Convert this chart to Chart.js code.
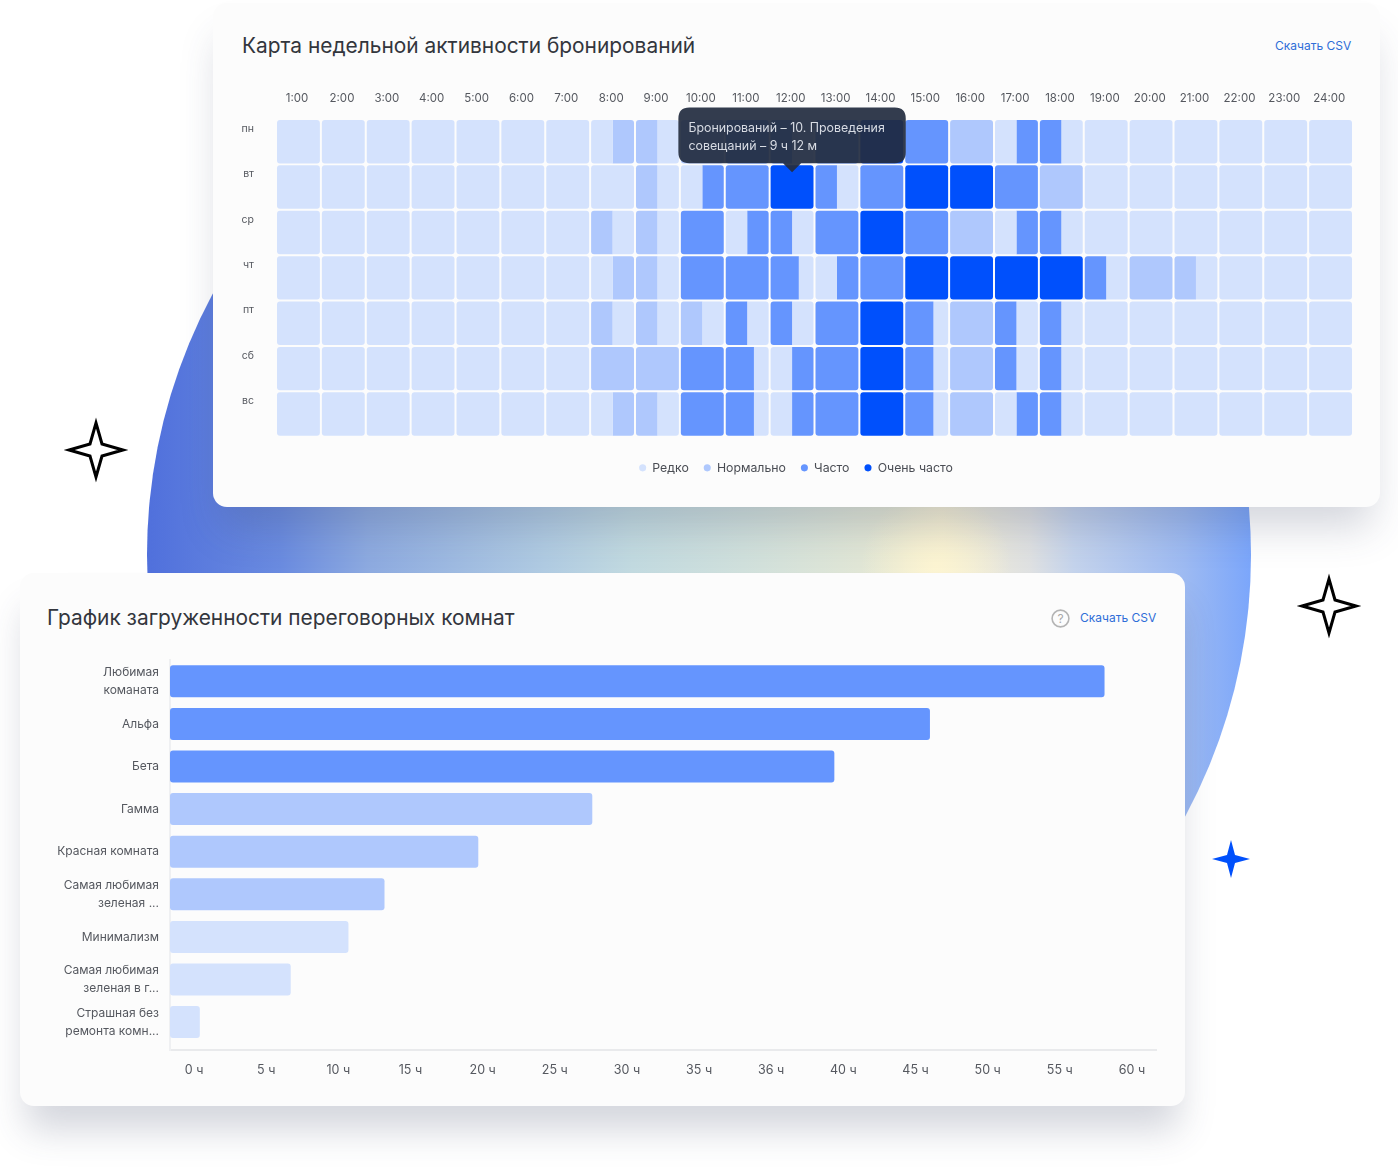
<!DOCTYPE html>
<html lang="ru">
<head>
<meta charset="utf-8">
<title>Аналитика бронирований</title>
<script src="https://cdn.jsdelivr.net/npm/chart.js@4/dist/chart.umd.min.js"></script>
<style>
  html, body { margin: 0; background: #fff; }
  body { position: relative; width: 1398px; height: 1171px; overflow: hidden; font-family: Inter, sans-serif; }
  .abs { position: absolute; }
  #circle {
    left: 147px; top: 3px; width: 1104px; height: 1104px; border-radius: 50%;
    clip-path: inset(0 0 40px 0);
    background:
      radial-gradient(circle 75px at 789px 562px, rgba(253,245,210,.95), rgba(253,245,210,0)),
      linear-gradient(90deg, #5070dc 0%, #6a8be0 12%, #8daae0 20%, #b0cbe2 36%, #c2dae0 44%, #d0e0dc 54%, #e6e8d4 68%, #f3eed4 72%, #dfe1e2 80%, #c4d3ec 84%, #9dbaf2 94%, #7ba6fb 100%);
  }
  .card { background: #fcfcfc; border-radius: 14px; }
  #card1 { left: 213px; top: 3px; width: 1167px; height: 504px; box-shadow: 0 28px 40px -8px rgba(60,70,100,.22); }
  #card2 { left: 20px; top: 573px; width: 1165px; height: 533px; box-shadow: 0 30px 36px -6px rgba(60,70,100,.22); }
  .title { font-size: 20.9px; color: #33363d; line-height: 28px; white-space: nowrap; }
  .csv { font-size: 12px; color: #2f6ed8; line-height: 16px; white-space: nowrap; }
  canvas { position: absolute; display: block; }
</style>
</head>
<body>
<div class="abs" id="circle"></div>
<div class="abs card" id="card1"></div>
<div class="abs card" id="card2"></div>

<svg class="abs" style="left:0;top:0" width="1398" height="1171">
  <g fill="#fff" stroke="#000" stroke-width="3" stroke-linejoin="miter">
    <path d="M96 423 L102 444 L123 450 L102 456 L96 477 L90 456 L69 450 L90 444 Z"/>
    <path d="M1329 579 L1335 600 L1356 606 L1335 612 L1329 633 L1323 612 L1302 606 L1323 600 Z"/>
  </g>
  <path fill="#0050fc" d="M1231 840 L1235 855 L1250 859 L1235 863 L1231 878 L1227 863 L1212 859 L1227 855 Z"/>
</svg>

<div class="abs title" style="left:242px;top:32px">Карта недельной активности бронирований</div>
<div class="abs csv" style="left:1275px;top:38px">Скачать CSV</div>
<div class="abs title" style="left:47px;top:604px">График загруженности переговорных комнат</div>
<div class="abs csv" style="left:1080px;top:610px">Скачать CSV</div>
<svg class="abs" style="left:1050px;top:608px" width="21" height="21">
  <circle cx="10.5" cy="10.5" r="8.4" fill="none" stroke="#b4b4b4" stroke-width="1.6"/>
  <text x="10.5" y="15" text-anchor="middle" font-family="Inter" font-size="12" fill="#a8a8a8">?</text>
</svg>

<canvas id="heat" class="abs" width="1114" height="399" style="left:239px;top:85px"></canvas>
<canvas id="rooms" class="abs" width="1119" height="435" style="left:46px;top:650px"></canvas>

<script>
const levelColors = ["#d4e2fd", "#afc8fd", "#6595fe", "#0050fc"];
const levelNames = ["Редко", "Нормально", "Часто", "Очень часто"];

const hourLabels = ["1:00","2:00","3:00","4:00","5:00","6:00","7:00","8:00","9:00","10:00","11:00","12:00",
  "13:00","14:00","15:00","16:00","17:00","18:00","19:00","20:00","21:00","22:00","23:00","24:00"];
const dayLabels = ["пн","вт","ср","чт","пт","сб","вс"];

// a cell is a level, or [left level, share of the left part, right level]
const mon = [0,0,0,0,0,0,0,[0,.5,1],[1,.5,0],1,2,[2,.5,0],2,3,2,1,[0,.5,2],[2,.5,0],0,0,0,0,0,0];
const tue = [0,0,0,0,0,0,0,0,[1,.5,0],[0,.5,2],2,3,[2,.5,0],2,3,3,2,1,0,0,0,0,0,0];
const wed = [0,0,0,0,0,0,0,[1,.5,0],[1,.5,0],2,[0,.5,2],[2,.5,0],2,3,2,1,[0,.5,2],[2,.5,0],0,0,0,0,0,0];
const thu = [0,0,0,0,0,0,0,[0,.5,1],[1,.5,0],2,2,[2,.65,0],[0,.5,2],2,3,3,3,3,[2,.5,0],1,[1,.5,0],0,0,0];
const fri = [0,0,0,0,0,0,0,[1,.5,0],[1,.5,0],[1,.5,0],[2,.5,0],[2,.5,0],2,3,[2,.65,0],1,[2,.5,0],[2,.5,0],0,0,0,0,0,0];
const sat = [0,0,0,0,0,0,0,1,1,2,[2,.65,0],[0,.5,2],2,3,[2,.65,0],1,[2,.5,0],[2,.5,0],0,0,0,0,0,0];
const sun = [0,0,0,0,0,0,0,[0,.5,1],[1,.5,0],2,[2,.65,0],[0,.5,2],2,3,[2,.65,0],1,[0,.5,2],[2,.5,0],0,0,0,0,0,0];
const week = [mon, tue, wed, thu, fri, sat, sun];

const tooltipLines = ["Бронирований – 10. Проведения", "совещаний – 9 ч 12 м"];

const roomLabels = [["Любимая","команата"],"Альфа","Бета","Гамма","Красная комната",
  ["Самая любимая","зеленая ..."],"Минимализм",["Самая любимая","зеленая в г..."],["Страшная без","ремонта комн..."]];
const roomHours = [58.1, 46, 39.5, 27.6, 19.7, 13.2, 10.7, 6.7, 0.4];
const roomLevels = [2, 2, 2, 1, 1, 1, 0, 0, 0];
const tickHours = [0, 5, 10, 15, 20, 25, 30, 35, 36, 40, 45, 50, 55, 60];

Chart.defaults.font.family = "Inter, sans-serif";
Chart.defaults.animation = false;

// the heat map: every hour has a left and a right slot, each slot is one floating bar dataset
const gap = 0.022;
const heatDatasets = [];
hourLabels.forEach((label, h) => {
  [0, 1].forEach(side => {
    const data = [], colors = [], radii = [];
    week.forEach(day => {
      const cell = day[h];
      if (!Array.isArray(cell)) {
        data.push(side === 0 ? [h + gap, h + 1 - gap] : null);
        colors.push(levelColors[cell]);
        radii.push(3);
      } else if (side === 0) {
        data.push([h + gap, h + cell[1]]);
        colors.push(levelColors[cell[0]]);
        radii.push({ topLeft: 3, bottomLeft: 3, topRight: 0, bottomRight: 0 });
      } else {
        data.push([h + cell[1], h + 1 - gap]);
        colors.push(levelColors[cell[2]]);
        radii.push({ topLeft: 0, bottomLeft: 0, topRight: 3, bottomRight: 3 });
      }
    });
    heatDatasets.push({ label, data, backgroundColor: colors, borderRadius: radii });
  });
});

Chart.Tooltip.positioners.cellTop = function (items) {
  if (!items.length) return false;
  const el = items[0].element;
  return { x: (el.x + el.base) / 2, y: el.y - el.height / 2 + 9 };
};

const heatChart = new Chart(document.getElementById("heat"), {
  type: "bar",
  data: { labels: dayLabels, datasets: heatDatasets },
  options: {
    indexAxis: "y",
    responsive: false,
    events: [],
    grouped: false,
    barPercentage: 1,
    categoryPercentage: 0.957,
    borderSkipped: false,
    inflateAmount: 0,
    scales: {
      x: {
        type: "linear",
        position: "top",
        min: 0,
        max: 24,
        afterBuildTicks: s => { s.ticks = hourLabels.map((_, i) => ({ value: i + 0.47 })); },
        afterFit: s => { s.height = 34; s.paddingLeft = 0; s.paddingRight = 0; },
        grid: { display: false, drawTicks: false },
        border: { display: false },
        ticks: {
          autoSkip: false, maxRotation: 0, minRotation: 0, padding: 14,
          color: "#55585f", font: { size: 11.5 },
          callback: (v, i) => hourLabels[i]
        }
      },
      legendGap: {
        type: "linear",
        axis: "x",
        position: "bottom",
        display: true,
        afterFit: s => { s.height = 10; s.paddingLeft = 0; s.paddingRight = 0; },
        grid: { display: false, drawTicks: false },
        border: { display: false },
        ticks: { display: false }
      },
      y: {
        afterFit: s => { s.width = 37; s.paddingTop = 0; s.paddingBottom = 0; },
        grid: { display: false, drawTicks: false },
        border: { display: false },
        ticks: { padding: 22, labelOffset: -13, color: "#55585f", font: { size: 10.5 } }
      }
    },
    plugins: {
      legend: {
        position: "bottom",
        labels: {
          usePointStyle: true,
          boxWidth: 7,
          boxHeight: 5,
          padding: 15,
          color: "#4a4d54",
          font: { size: 12.3 },
          generateLabels: () => levelNames.map((text, i) => ({
            text,
            fillStyle: levelColors[i],
            strokeStyle: levelColors[i],
            lineWidth: 0,
            pointStyle: "circle",
            fontColor: "#4a4d54"
          }))
        }
      },
      tooltip: {
        position: "cellTop",
        xAlign: "center",
        yAlign: "bottom",
        displayColors: false,
        backgroundColor: "rgba(36,45,65,0.93)",
        bodyColor: "#d8dce4",
        bodyFont: { size: 12.4 },
        bodySpacing: 3,
        caretSize: 9,
        cornerRadius: 11,
        padding: { left: 10, right: 21, top: 13.5, bottom: 9.5 },
        callbacks: { title: () => [], label: () => tooltipLines }
      }
    }
  }
});
heatChart.tooltip.setActiveElements([{ datasetIndex: 22, index: 1 }], { x: 0, y: 0 });
heatChart.update();

// hours sit on evenly spaced ticks although the steps differ (35, 36, 40), so go through the tick index
function toAxis(hours) {
  let i = 0;
  while (i < tickHours.length - 2 && hours > tickHours[i + 1]) i++;
  return i + (hours - tickHours[i]) / (tickHours[i + 1] - tickHours[i]);
}
const axisMin = -1 / 3;

new Chart(document.getElementById("rooms"), {
  type: "bar",
  data: {
    datasets: [{
      data: roomHours.map((h, i) => ({ x: toAxis(h), y: i })),
      base: axisMin,
      backgroundColor: roomLevels.map(l => levelColors[l]),
      borderRadius: 3,
      borderSkipped: false,
      barThickness: 32,
      inflateAmount: 0
    }]
  },
  options: {
    indexAxis: "y",
    responsive: false,
    events: [],
    layout: { padding: { top: 10, right: 9 } },
    scales: {
      x: {
        type: "linear",
        min: axisMin,
        max: tickHours.length - 1 + 1 / 3,
        afterBuildTicks: s => { s.ticks = tickHours.map((_, i) => ({ value: i })); },
        afterFit: s => { s.height = 35; s.paddingLeft = 0; s.paddingRight = 0; },
        grid: { display: false, drawTicks: false },
        border: { color: "#e9eaec", width: 2 },
        ticks: {
          autoSkip: false, maxRotation: 0, minRotation: 0, padding: 13,
          color: "#55585f", font: { size: 12.5 },
          callback: v => tickHours[v] + " ч"
        }
      },
      y: {
        type: "linear",
        offset: false,
        reverse: true,
        min: -0.5,
        max: 8.655,
        afterBuildTicks: s => { s.ticks = roomLabels.map((_, i) => ({ value: i })); },
        afterFit: s => { s.width = 124; s.paddingTop = 0; s.paddingBottom = 0; },
        grid: { display: false, drawTicks: false },
        border: { color: "#eff0f2", width: 2 },
        ticks: {
          autoSkip: false, padding: 11,
          color: "#55585f", font: { size: 12, lineHeight: 1.5 },
          callback: v => roomLabels[v]
        }
      }
    },
    plugins: { legend: { display: false }, tooltip: { enabled: false } }
  }
});
</script>
</body>
</html>
